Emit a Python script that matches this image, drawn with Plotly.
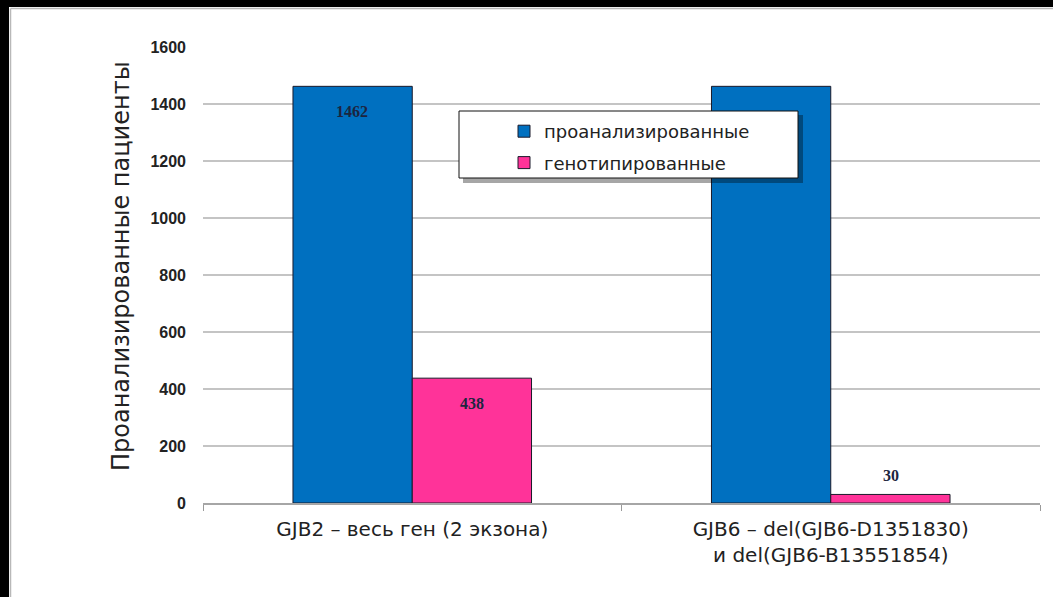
import plotly.graph_objects as go

# Data
categories = ["GJB2 – весь ген (2 экзона)",
              "GJB6 – del(GJB6-D1351830)<br>и del(GJB6-B13551854)"]
category_keys = ["GJB2", "GJB6"]
analyzed = [1462, 1462]
genotyped = [438, 30]
series_names = ["проанализированные", "генотипированные"]
y_ticks = [0, 200, 400, 600, 800, 1000, 1200, 1400, 1600]

# the second "analyzed" label sits under the legend box, so it is not drawn
show_analyzed_label = [True, False]
show_genotyped_label = [True, True]

W, H = 1053, 597
M_L, M_R, M_T, M_B = 203, 13, 47, 94
PW, PH = W - M_L - M_R, H - M_T - M_B


def px_x(px):
    return (px - M_L) / PW


def px_y(py):
    return (H - M_B - py) / PH


BLUE = "#0070C0"
PINK = "#FF3399"
TITLE_FONT = "DejaVu Sans"
LABEL_COLOR = "#1c2540"

fig = go.Figure()
fig.add_trace(go.Bar(
    x=category_keys, y=analyzed, name=series_names[0],
    marker=dict(color=BLUE, line=dict(color="#1a1a2a", width=1)),
    legendgroup="a",
))
fig.add_trace(go.Bar(
    x=category_keys, y=genotyped, name=series_names[1],
    marker=dict(color=PINK, line=dict(color="#1a1a2a", width=1)),
    legendgroup="b",
))

# value labels on bars
annotations = []
for vals, shown, xs in ((analyzed, show_analyzed_label, -60),
                        (genotyped, show_genotyped_label, 60)):
    for cat, v, s in zip(category_keys, vals, shown):
        if not s:
            continue
        inside = v > 100
        annotations.append(dict(
            x=cat, y=v, xref="x", yref="y", text=str(v), showarrow=False,
            xshift=xs, yshift=-25 if inside else 19,
            font=dict(family="Liberation Serif", size=16, color=LABEL_COLOR,
                      weight="bold"),
        ))

# y axis title
annotations.append(dict(
    x=px_x(121), y=px_y(266), xref="paper", yref="paper",
    xanchor="center", yanchor="middle",
    text="Проанализированные пациенты", textangle=-90, showarrow=False,
    font=dict(family=TITLE_FONT, size=24, color="#222222"),
))

shapes = [
    # frame edges
    dict(type="rect", xref="paper", yref="paper", x0=px_x(0), x1=px_x(W + 5),
         y0=px_y(7), y1=px_y(-5), fillcolor="black", line_width=0, layer="above"),
    dict(type="rect", xref="paper", yref="paper", x0=px_x(-5), x1=px_x(9),
         y0=px_y(H + 5), y1=px_y(-5), fillcolor="black", line_width=0, layer="above"),
    dict(type="line", xref="paper", yref="paper", x0=px_x(10.5), x1=px_x(W + 5),
         y0=px_y(8.5), y1=px_y(8.5), line=dict(color="#b8b8b8", width=1.5), layer="above"),
    dict(type="line", xref="paper", yref="paper", x0=px_x(10.5), x1=px_x(10.5),
         y0=px_y(8.5), y1=px_y(H + 5), line=dict(color="#b8b8b8", width=1.5), layer="above"),
    # legend box shadow and box
    dict(type="rect", xref="paper", yref="paper", x0=px_x(463), x1=px_x(803),
         y0=px_y(183), y1=px_y(115), fillcolor="rgba(0,0,0,0.35)", line_width=0,
         layer="above"),
    dict(type="rect", xref="paper", yref="paper", x0=px_x(459), x1=px_x(798),
         y0=px_y(178), y1=px_y(111), fillcolor="white",
         line=dict(color="#111111", width=1), layer="above"),
]

fig.update_layout(
    width=W, height=H,
    margin=dict(l=M_L, r=M_R, t=M_T, b=M_B, autoexpand=False),
    paper_bgcolor="white", plot_bgcolor="white",
    barmode="group", bargap=0.43, bargroupgap=0,
    showlegend=True,
    legend=dict(
        x=px_x(504), y=px_y(113), xanchor="left", yanchor="top",
        bgcolor="rgba(0,0,0,0)", borderwidth=0,
        font=dict(family=TITLE_FONT, size=18, color="#222222"),
        traceorder="grouped", tracegroupgap=5,
    ),
    xaxis=dict(
        tickmode="array", tickvals=category_keys, ticktext=categories,
        tickson="boundaries", ticks="outside", ticklen=6, tickcolor="#9a9a9a",
        showline=True, linecolor="#a6a6a6", linewidth=1.5,
        showgrid=False, fixedrange=True, ticklabelstandoff=7,
        tickfont=dict(family=TITLE_FONT, size=20, color="#222222"),
    ),
    yaxis=dict(
        range=[0, 1600], tickvals=y_ticks, showline=False,
        showgrid=True, gridcolor="#c4c4c4", gridwidth=1.5,
        zeroline=False, ticks="", ticklabelstandoff=16,
        tickfont=dict(family="Liberation Sans", size=16, color="#222222",
                      weight="bold"),
    ),
    annotations=annotations,
    shapes=shapes,
)

fig.write_html("out.html")
